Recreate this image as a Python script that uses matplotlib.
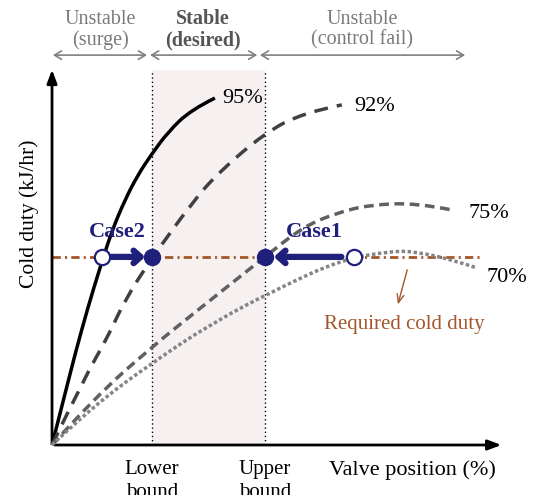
import matplotlib
matplotlib.use("Agg")
import matplotlib.pyplot as plt
from matplotlib.path import Path
from matplotlib.patches import PathPatch

plt.rcParams['font.family'] = ['Liberation Serif', 'DejaVu Serif']
plt.rcParams['lines.scale_dashes'] = False

# curve points (valve position %, cold duty in arbitrary units)
x_95 = [0, 2.7, 5.3, 8.0, 10.7, 13.3, 16.2, 19.1, 22.0, 25.8, 30.9, 36.2]
y_95 = [0, 12.6, 24.7, 36.3, 46.8, 56.3, 64.5, 71.1, 76.3, 82.4, 88.2, 91.3]
x_92 = [0, 7.3, 12.4, 16.2, 22.2, 31.1, 36.9, 47.3, 55.8, 64.4]
y_92 = [0, 17.9, 28.4, 38.2, 49.2, 63.7, 71.6, 82.1, 87.4, 89.5]
x_75 = [0, 9.6, 22.2, 32.4, 47.3, 55.8, 63.3, 70.7, 81.1, 89.1]
y_75 = [0, 12.6, 25.8, 35.5, 49.5, 57.4, 61.1, 63.2, 63.7, 61.8]
x_70 = [0, 8.9, 22.2, 35.6, 49.6, 64.0, 75.8, 81.1, 89.1, 94.4]
y_70 = [0, 10.0, 21.6, 32.1, 40.8, 48.7, 51.1, 50.8, 48.7, 46.6]

required_duty = 49.5
duty_line_end = 95.6
lower_bound = 22.2
upper_bound = 47.3
case2_start = 11.2
case1_start = 67.1

navy = '#1f1f7c'
brown = '#a4562a'


# smooth curve through the read points (quadratic bezier pieces)
def smooth_path(xs, ys):
    pts = list(zip(xs, ys))
    verts = [pts[0]]
    codes = [Path.MOVETO]
    for i in range(1, len(pts) - 1):
        if i == len(pts) - 2:
            end = pts[-1]
        else:
            end = ((pts[i][0] + pts[i + 1][0]) / 2, (pts[i][1] + pts[i + 1][1]) / 2)
        verts += [pts[i], end]
        codes += [Path.CURVE3, Path.CURVE3]
    return Path(verts, codes)


fig = plt.figure(figsize=(5.38, 4.95), dpi=100)
ax = fig.add_axes([0, 0, 1, 1])
ax.set_xlim(-11.56, 108.0)
ax.set_ylim(-13.16, 117.1)
ax.axis('off')

# stable band
ax.fill_between([lower_bound, upper_bound], 0, 98.7, color='#f7f0f0', lw=0, zorder=0)
for xb in (lower_bound, upper_bound):
    ax.plot([xb, xb], [0, 98.7], color='black', lw=1, ls=(0, (1, 2)), zorder=1)

# axes arrows
ax.annotate('', xy=(0, 99.5), xytext=(0, 0),
            arrowprops=dict(arrowstyle='-|>,head_length=0.8,head_width=0.3', lw=2, color='black'))
ax.annotate('', xy=(100.5, 0), xytext=(0, 0),
            arrowprops=dict(arrowstyle='-|>,head_length=0.8,head_width=0.3', lw=2, color='black'))

# curves
curve_styles = [
    (x_95, y_95, 'black', '-'),
    (x_92, y_92, '#404040', (0, (10, 6.5))),
    (x_75, y_75, '#606060', (0, (7, 4))),
    (x_70, y_70, '#858585', (0, (2.5, 1.8))),
]
for xs, ys, col, style in curve_styles:
    ax.add_patch(PathPatch(smooth_path(xs, ys), fill=False, edgecolor=col, lw=2.5,
                           ls=style, capstyle='butt', zorder=3))

# required duty
ax.plot([0, duty_line_end], [required_duty, required_duty], color=brown, lw=2,
        dashes=(6, 3, 1.5, 3), zorder=2)

# case arrows
ax.annotate('', xy=(lower_bound - 1.5, required_duty), xytext=(case2_start + 2.0, required_duty),
            arrowprops=dict(arrowstyle='->,head_length=0.5,head_width=0.45', lw=4.5,
                            color=navy, shrinkA=0, shrinkB=0), zorder=4)
ax.annotate('', xy=(upper_bound + 2.0, required_duty), xytext=(case1_start - 2.8, required_duty),
            arrowprops=dict(arrowstyle='->,head_length=0.5,head_width=0.45', lw=4.5,
                            color=navy, shrinkA=0, shrinkB=0), zorder=4)

ax.plot([lower_bound, upper_bound], [required_duty] * 2, 'o', ms=11.5, color=navy, zorder=5)
ax.plot([case2_start, case1_start], [required_duty] * 2, 'o', ms=11, mfc='white',
        mec=navy, mew=1.6, zorder=5)

ax.text(14.4, 56.0, 'Case2', color=navy, fontsize=16, fontweight='bold', ha='center', va='center')
ax.text(58.4, 56.0, 'Case1', color=navy, fontsize=16, fontweight='bold', ha='center', va='center')

# curve labels
ax.text(42.4, 91.3, '95%', fontsize=16, ha='center', va='center')
ax.text(71.6, 89.2, '92%', fontsize=16, ha='center', va='center')
ax.text(97.1, 60.8, '75%', fontsize=16, ha='center', va='center')
ax.text(101.1, 44.2, '70%', fontsize=16, ha='center', va='center')

# required duty label
ax.annotate('', xy=(76.7, 36.3), xytext=(79.1, 46.8),
            arrowprops=dict(arrowstyle='->,head_length=0.6,head_width=0.25', lw=1, color=brown))
ax.text(78.4, 31.6, 'Required cold duty', color=brown, fontsize=15, ha='center', va='center')

# region labels on top
for x0, x1 in [(0.2, 21.1), (21.8, 45.6), (46.2, 91.8)]:
    ax.annotate('', xy=(x0, 102.6), xytext=(x1, 102.6),
                arrowprops=dict(arrowstyle='<->,head_length=0.5,head_width=0.3', lw=1.2,
                                color='#808080', shrinkA=0, shrinkB=0))
ax.text(10.7, 109.3, 'Unstable\n(surge)', color='#7a7a7a', fontsize=14.5, ha='center', va='center',
        linespacing=1.1)
ax.text(33.6, 109.3, 'Stable\n(desired)', color='#555555', fontsize=14.5, fontweight='bold',
        ha='center', va='center', linespacing=1.1)
ax.text(68.9, 109.3, 'Unstable\n(control fail)', color='#7a7a7a', fontsize=14.5, ha='center',
        va='center', linespacing=1.1)

# axis labels
ax.text(lower_bound, -3.9, 'Lower\nbound', fontsize=15, ha='center', va='top', linespacing=1.3)
ax.text(upper_bound, -3.9, 'Upper\nbound', fontsize=15, ha='center', va='top', linespacing=1.3)
ax.text(80.2, -6.6, 'Valve position (%)', fontsize=16, ha='center', va='center')
ax.text(-5.0, 60.8, 'Cold duty (kJ/hr)', fontsize=15.5, ha='center', va='center', rotation=90)

fig.savefig('out.png', dpi=100)
